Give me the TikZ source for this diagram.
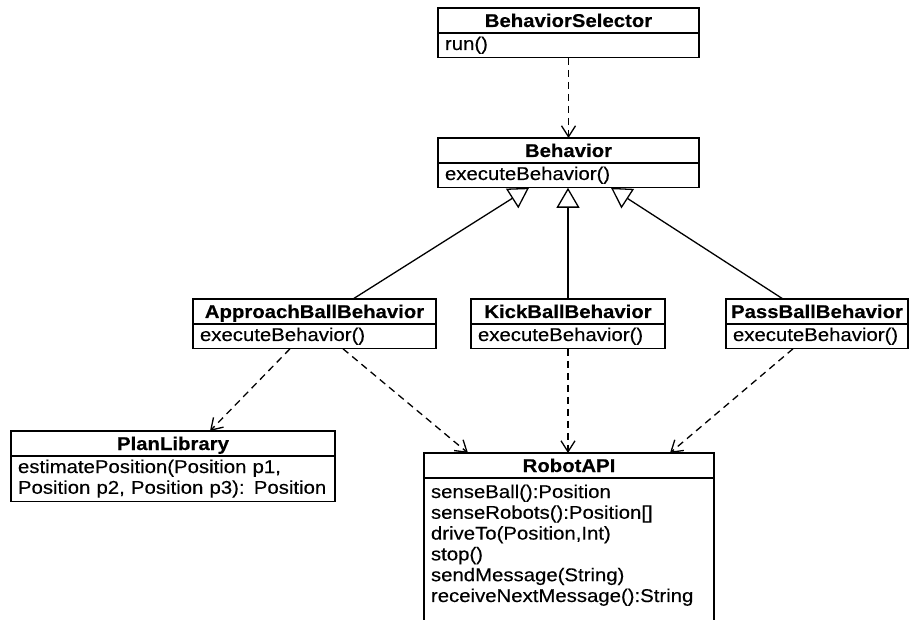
\documentclass[tikz,border=0pt]{standalone}
\usepackage{fontspec}
\setmainfont{Liberation Sans}[FakeStretch=1.1,
  UprightFeatures={FakeBold=0.35}, BoldFeatures={FakeBold=0.35}]
\usetikzlibrary{arrows.meta}
% struts that fix the height and depth of every member row
\newcommand\rowstrut{\rule[-5.8pt]{0pt}{20.8pt}}
\newcommand\laststrut{\rule[-22pt]{0pt}{37pt}}

\begin{document}
\begin{tikzpicture}[x=1pt,y=-1pt,
  line width=1.3pt,
  every node/.style={font=\fontsize{18.5}{20.8}\selectfont, outer sep=0pt},
  classname/.style={draw, anchor=north west, inner sep=0pt,
    minimum width=#1, minimum height=25pt, text height=15pt, text depth=2pt,
    font=\fontsize{18.5}{20.8}\selectfont\bfseries},
  members/.style={draw, anchor=north west, inner xsep=7pt, inner ysep=2pt,
    text width=#1, align=left},
  depends/.style={dash pattern=on 7pt off 5pt,
    -{Straight Barb[length=11pt,width=14pt]}},
  inherits/.style={-{Triangle[length=20pt,width=23pt,fill=white]}}
]
\useasboundingbox (0,0) rectangle (911,620);

% classes
\node[classname=261] (selH) at (438,8) {BehaviorSelector};
\node[members=247] (selB) at (selH.south west) {\rowstrut run()};

\node[classname=261] (behH) at (438,138) {Behavior};
\node[members=247] (behB) at (behH.south west) {\rowstrut executeBehavior()};

\node[classname=243] (appH) at (193,299) {ApproachBallBehavior};
\node[members=229] (appB) at (appH.south west) {\rowstrut executeBehavior()};

\node[classname=194] (kickH) at (471,299) {KickBallBehavior};
\node[members=180] (kickB) at (kickH.south west) {\rowstrut executeBehavior()};

\node[classname=182] (passH) at (726,299) {PassBallBehavior};
\node[members=168] (passB) at (passH.south west) {\rowstrut executeBehavior()};

\node[classname=324] (planH) at (11,431) {PlanLibrary};
\node[members=310] (planB) at (planH.south west)
  {\rowstrut estimatePosition(Position p1,\\
   \rowstrut Position p2, Position p3): Position};

\node[classname=290] (apiH) at (424,453) {RobotAPI};
\node[members=276, inner ysep=5pt] (apiB) at (apiH.south west)
  {\rowstrut senseBall():Position\\
   \rowstrut senseRobots():Position[]\\
   \rowstrut driveTo(Position,Int)\\
   \rowstrut stop()\\
   \rowstrut sendMessage(String)\\
   \laststrut receiveNextMessage():String};

% generalisations
\draw[inherits] ([xshift=38.5pt]appH.north) -- ([xshift=-39.5pt]behB.south);
\draw[inherits] (kickH.north) -- (kickH.north |- behB.south);
\draw[inherits] ([xshift=-34pt]passH.north) -- ([xshift=42.5pt]behB.south);

% dependencies
\draw[depends] (selB.south) -- (behH.north);
\draw[depends] ([xshift=-24.5pt]appB.south) -- ([xshift=37pt]planH.north);
\draw[depends] ([xshift=28.5pt]appB.south) -- ([xshift=-101pt]apiH.north);
\draw[depends] (kickB.south) -- (kickB.south |- apiH.north);
\draw[depends] ([xshift=-24pt]passB.south) -- ([xshift=101pt]apiH.north);
\end{tikzpicture}
\end{document}
